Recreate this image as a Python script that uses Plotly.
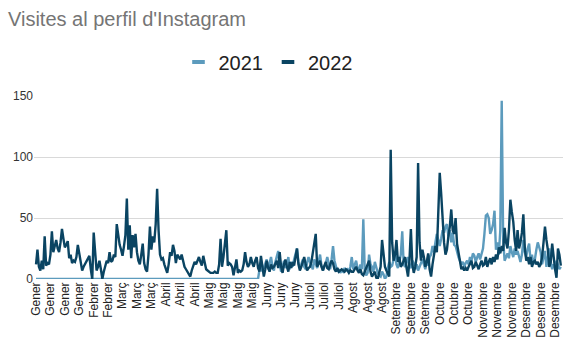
import plotly.graph_objects as go

# Daily values, day index 0..364 (1 Jan .. 31 Dec)
v2022 = [
    12, 24, 10, 7, 15, 8, 35, 11, 13, 12,
    20, 39, 22, 28, 32, 25, 22, 30, 41, 33,
    26, 28, 31, 17, 20, 13, 15, 14, 18, 28,
    20, 12, 7, 10, 12, 15, 17, 19, 8, 0,
    38, 20, 7, 10, 15, 8, 0, 6, 12, 15,
    13, 22, 14, 15, 20, 18, 45, 35, 28, 24,
    19, 27, 36, 66, 24, 44, 17, 36, 26, 37,
    22, 15, 12, 20, 29, 13, 8, 6, 20, 43,
    24, 35, 30, 45, 74, 40, 20, 16, 17, 12,
    8, 5, 12, 22, 19, 28, 23, 13, 20, 18,
    16, 20, 14, 10, 8, 6, 4, 2, 7, 10,
    14, 12, 15, 18, 14, 11, 19, 13, 8, 7,
    6, 5, 5, 5, 6, 5, 5, 12, 33, 10,
    18, 27, 40, 11, 13, 12, 10, 3, 9, 16,
    5, 7, 6, 7, 12, 22, 14, 10, 12, 18,
    13, 10, 15, 18, 9, 6, 19, 10, 2, 8,
    15, 9, 6, 12, 9, 10, 12, 15, 9, 22,
    10, 5, 12, 16, 10, 6, 14, 9, 14, 11,
    18, 25, 12, 7, 10, 14, 18, 12, 7, 9,
    10, 14, 22, 30, 37, 10, 13, 15, 10, 7,
    11, 14, 9, 8, 12, 15, 13, 8, 6, 9,
    6, 7, 8, 7, 6, 8, 7, 5, 7, 6,
    6, 8, 10, 7, 5, 8, 4, 3, 7, 9,
    12, 15, 6, 2, 4, 6, 1, 0, 5, 10,
    32, 18, 10, 7, 5, 2, 106, 30, 15, 20,
    32, 14, 18, 10, 12, 15, 18, 9, 2, 15,
    41, 12, 5, 10, 18, 95, 30, 15, 24, 18,
    10, 14, 21, 8, 2, 12, 18, 27, 22, 50,
    87, 70, 45, 30, 20, 24, 35, 43, 57, 40,
    37, 50, 29, 21, 14, 8, 10, 7, 9, 7,
    10, 12, 15, 9, 10, 14, 10, 8, 12, 15,
    11, 12, 18, 10, 14, 17, 12, 18, 14, 20,
    16, 26, 21, 27, 23, 42, 30, 25, 40, 65,
    55, 47, 32, 23, 40, 25, 30, 38, 53, 26,
    15, 18, 12, 18, 10, 14, 15, 12, 14, 10,
    12, 18, 30, 43, 32, 24, 10, 14, 29, 15,
    8, 1, 25, 20, 11,
]

v2021 = [0] * 155 + [
    8, 14, 6, 10, 12,
    16, 8, 12, 18, 10, 7, 14, 20, 23, 12,
    6, 10, 15, 9, 12, 18, 8, 14, 10, 16,
    20, 25, 14, 9, 12, 16, 10, 8, 13, 18,
    14, 10, 8, 16, 12, 9, 14, 20, 11, 7,
    10, 13, 18, 12, 8, 16, 27, 15, 9, 6,
    8, 5, 7, 6, 9, 7, 8, 6, 10, 18,
    8, 12, 15, 9, 6, 12, 8, 49, 7, 3,
    5, 20, 12, 10, 6, 14, 8, 5, 3, 2,
    6, 4, 0, 2, 9, 14, 10, 11, 16, 22,
    12, 9, 14, 20, 39, 12, 10, 14, 18, 11,
    9, 15, 13, 8, 12, 7, 10, 14, 16, 12,
    8, 15, 11, 18, 20, 27, 22, 30, 37, 32,
    27, 33, 40, 38, 43, 45, 35, 40, 30, 38,
    28, 27, 22, 18, 15, 12, 14, 10, 13, 15,
    12, 18, 15, 21, 19, 14, 18, 21, 16, 22,
    25, 37, 52, 53, 50, 37, 40, 45, 56, 24,
    30, 20, 40, 146, 32, 15, 18, 21, 17, 27,
    22, 18, 25, 20, 23, 18, 14, 20, 32, 22,
    18, 25, 29, 15, 20, 12, 16, 24, 30, 26,
    22, 12, 18, 23, 10, 16, 25, 14, 8, 12,
    10, 15, 12, 8, 10,
]

days = list(range(365))
tick_days = list(range(0, 365, 10))
tick_labels = (["Gener"] * 4 + ["Febrer"] * 2 + ["Març"] * 3 + ["Abril"] * 3 +
               ["Maig"] * 4 + ["Juny"] * 3 + ["Juliol"] * 3 + ["Agost"] * 3 +
               ["Setembre"] * 3 + ["Octubre"] * 3 + ["Novembre"] * 3 + ["Desembre"] * 3)

c2021 = "#5c9bbd"
c2022 = "#0a4462"

fig = go.Figure()
fig.add_trace(go.Scatter(x=days, y=v2021, mode="lines", line=dict(color=c2021, width=2.4),
                         showlegend=False, name="2021"))
fig.add_trace(go.Scatter(x=days, y=v2022, mode="lines", line=dict(color=c2022, width=2.4),
                         showlegend=False, name="2022"))
for name, col in [("2021", c2021), ("2022", c2022)]:
    fig.add_trace(go.Scatter(x=[None], y=[None], mode="markers", name=name,
                             marker=dict(symbol="line-ew", size=9,
                                         line=dict(width=4, color=col))))

fig.update_layout(
    width=563, height=340,
    margin=dict(l=34, r=0, t=96, b=61),
    paper_bgcolor="white", plot_bgcolor="white",
    font=dict(family="Liberation Sans, Arial, sans-serif", color="#222222"),
    title=dict(text="Visites al perfil d'Instagram", x=8 / 563, xanchor="left",
               xref="container", y=1 - 19 / 340, yanchor="middle", yref="container",
               font=dict(size=20, color="#757575")),
    legend=dict(orientation="h", x=268 / 563, xanchor="center", xref="container",
                y=1 - 62 / 340, yanchor="middle", yref="container",
                font=dict(size=20, color="#222222"), itemwidth=30,
                bgcolor="rgba(0,0,0,0)"),
    xaxis=dict(range=[-1.4, 365.5], tickmode="array", tickvals=tick_days, ticktext=tick_labels,
               tickangle=-90, tickfont=dict(size=12, color="#222222"), showgrid=False,
               zeroline=False, showline=False, ticks=""),
    yaxis=dict(range=[0, 150], tickvals=[0, 50, 100, 150], tickfont=dict(size=12, color="#333333"),
               gridcolor="#d9d9d9", gridwidth=1, zeroline=False, showline=False, ticks="",
               ticksuffix=" "),
)

fig.write_html("out.html")
